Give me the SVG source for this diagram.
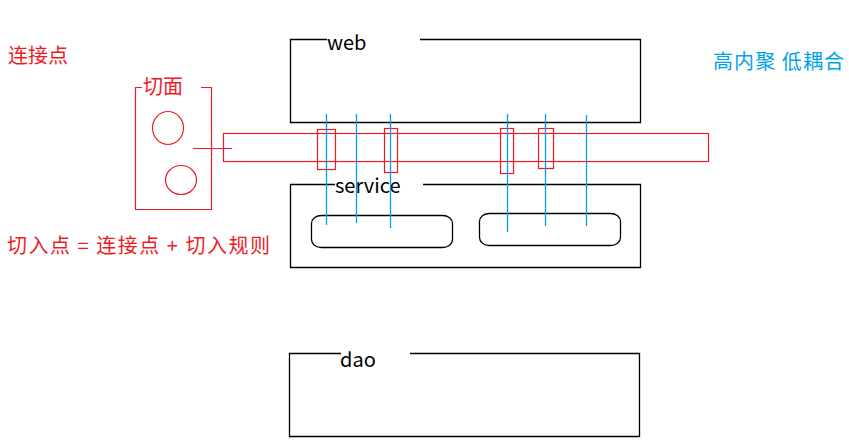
<svg xmlns="http://www.w3.org/2000/svg" width="849" height="445" viewBox="0 0 849 445">
<style>
.blk{fill:none;stroke:#000;stroke-width:1.3}
.red{fill:none;stroke:#ed1c24;stroke-width:1.2}
.blu{fill:none;stroke:#00a2e8;stroke-width:1.3}
.t{font-family:"Noto Sans CJK SC","Noto Sans",sans-serif;font-size:20px}
.tk{fill:#000}
.tr{fill:#ed1c24}
.tb{fill:#00a2e8}
</style>
<rect width="849" height="445" fill="#fff"/>
<g id="web">
<path class="blk" d="M327,39.5 H290.5 V122.5 H640.5 V39.5 H420"/>
<text class="t tk" x="327" y="50">web</text>
</g>
<g id="service">
<path class="blk" d="M335,184.5 H290.5 V267.5 H640.5 V184.5 H423"/>
<text class="t tk" x="335" y="193">service</text>
<rect class="blk" x="311.5" y="215.5" width="141" height="32" rx="10" ry="8"/>
<rect class="blk" x="479.5" y="213.5" width="141" height="32" rx="10" ry="8"/>
</g>
<g id="dao">
<path class="blk" d="M341,353.5 H289.5 V436.5 H639.5 V353.5 H410"/>
<text class="t tk" x="340" y="367">dao</text>
</g>
<g id="aspect">
<path class="red" d="M142,87.5 H135.5 V209.5 H211.5 V87.5 H201"/>
<text class="t tr" x="143" y="94">切面</text>
<ellipse class="red" cx="168" cy="128" rx="15.5" ry="16.5"/>
<ellipse class="red" cx="181" cy="180" rx="15.5" ry="14.5"/>
</g>
<g id="connectors">
<rect class="red" x="223.5" y="133.5" width="485" height="28"/>
<line class="red" x1="193" y1="148.5" x2="232" y2="148.5"/>
<rect class="red" x="317.5" y="129.5" width="18" height="40"/>
<rect class="red" x="384.5" y="128.5" width="13" height="44"/>
<rect class="red" x="500.5" y="128.5" width="13" height="45"/>
<rect class="red" x="538.5" y="128.5" width="15" height="40"/>
<line class="blu" x1="326.5" y1="114" x2="326.5" y2="225"/>
<line class="blu" x1="356.5" y1="114" x2="356.5" y2="223"/>
<line class="blu" x1="390.5" y1="114" x2="390.5" y2="228"/>
<line class="blu" x1="507.5" y1="114" x2="507.5" y2="232"/>
<line class="blu" x1="545.5" y1="114" x2="545.5" y2="226"/>
<line class="blu" x1="586.5" y1="115" x2="586.5" y2="226"/>
</g>
<g id="labels">
<text class="t tr" x="8" y="63">连接点</text>
<text class="t tr" x="7" y="253" textLength="263" lengthAdjust="spacing">切入点 = 连接点 + 切入规则</text>
<text class="t tb" x="713" y="69" textLength="131" lengthAdjust="spacing">高内聚 低耦合</text>
</g>
</svg>
